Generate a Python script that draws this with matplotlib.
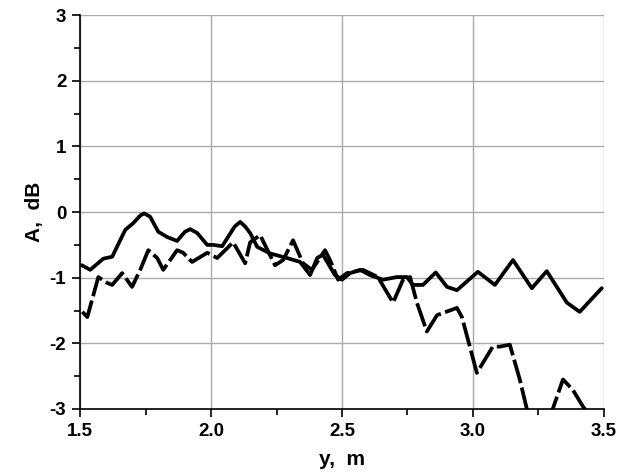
import matplotlib
matplotlib.use("Agg")
import matplotlib.pyplot as plt
from matplotlib.ticker import MultipleLocator

plt.rcParams['font.family'] = ['Liberation Sans', 'DejaVu Sans']
plt.rcParams['font.weight'] = 'bold'
plt.rcParams['axes.unicode_minus'] = False

# solid curve
y_solid = [1.506, 1.538, 1.588, 1.622, 1.672, 1.702, 1.730, 1.744, 1.767, 1.798, 1.832,
           1.870, 1.900, 1.920, 1.947, 1.985, 2.008, 2.042, 2.090, 2.111, 2.130, 2.149, 2.176, 2.225,
           2.290, 2.340, 2.378, 2.405, 2.427, 2.473, 2.500, 2.531, 2.569, 2.607,
           2.656, 2.710, 2.748, 2.771, 2.809, 2.858, 2.901, 2.939, 3.019, 3.084,
           3.153, 3.225, 3.282, 3.359, 3.408, 3.492]
a_solid = [-0.81, -0.88, -0.71, -0.68, -0.27, -0.17, -0.05, -0.02, -0.07, -0.30, -0.38,
           -0.44, -0.30, -0.26, -0.32, -0.50, -0.50, -0.52, -0.22, -0.15, -0.22, -0.32, -0.53, -0.63,
           -0.70, -0.76, -0.96, -0.70, -0.65, -0.96, -1.03, -0.93, -0.88, -0.96,
           -1.03, -0.99, -0.99, -1.11, -1.11, -0.92, -1.14, -1.19, -0.91, -1.11,
           -0.73, -1.16, -0.90, -1.38, -1.52, -1.16]

# dashed curve
y_dash = [1.508, 1.527, 1.569, 1.603, 1.622, 1.660, 1.698, 1.729, 1.760, 1.794,
          1.817, 1.870, 1.893, 1.927, 1.985, 2.023, 2.084, 2.130, 2.149, 2.187,
          2.244, 2.275, 2.313, 2.351, 2.385, 2.435, 2.454, 2.485, 2.519, 2.580,
          2.637, 2.695, 2.733, 2.760, 2.786, 2.824, 2.863, 2.939, 2.958, 3.015,
          3.076, 3.103, 3.141, 3.179, 3.206, 3.256, 3.305, 3.344, 3.382, 3.420,
          3.466]
a_dash = [-1.52, -1.60, -0.99, -1.08, -1.11, -0.93, -1.14, -0.88, -0.58, -0.70,
          -0.88, -0.58, -0.62, -0.76, -0.62, -0.70, -0.46, -0.78, -0.46, -0.35,
          -0.81, -0.73, -0.43, -0.78, -0.88, -0.58, -0.73, -1.03, -0.93, -0.88,
          -0.99, -1.38, -1.03, -0.99, -1.38, -1.82, -1.57, -1.46, -1.60, -2.45,
          -2.05, -2.05, -2.02, -2.55, -3.00, -3.30, -3.00, -2.55, -2.71, -2.96,
          -3.20]

fig = plt.figure(figsize=(6.27, 4.75), dpi=100)
ax = fig.add_axes([0.128, 0.139, 0.835, 0.829])

ax.plot(y_solid, a_solid, color='black', lw=2.7, solid_joinstyle='round', solid_capstyle='round')
ax.plot(y_dash, a_dash, color='black', lw=2.7, dashes=(6.5, 1.2), dash_joinstyle='round')

ax.set_xlim(1.5, 3.5)
ax.set_ylim(-3, 3)
ax.xaxis.set_major_locator(MultipleLocator(0.5))
ax.xaxis.set_minor_locator(MultipleLocator(0.25))
ax.yaxis.set_major_locator(MultipleLocator(1))
ax.yaxis.set_minor_locator(MultipleLocator(0.5))
ax.set_xticklabels([f'{v:.1f}' for v in ax.get_xticks()])

ax.grid(True, which='major', color='#aaaaaa', lw=1.0)
ax.get_ygridlines()[-1].set_visible(False)
ax.get_xgridlines()[-1].set_visible(False)

ax.spines['top'].set_visible(False)
ax.spines['right'].set_visible(False)
ax.spines['left'].set_linewidth(1.2)
ax.spines['bottom'].set_linewidth(1.2)
ax.tick_params(which='major', direction='out', length=6, width=1.2, labelsize=13.5, pad=4)
ax.tick_params(which='minor', direction='out', length=4, width=1.2)

ax.set_xlabel('y,  m', fontsize=15, fontweight='bold', labelpad=7)
ax.set_ylabel('A,  dB', fontsize=15, fontweight='bold', labelpad=4)

plt.savefig('out.png', dpi=100)
